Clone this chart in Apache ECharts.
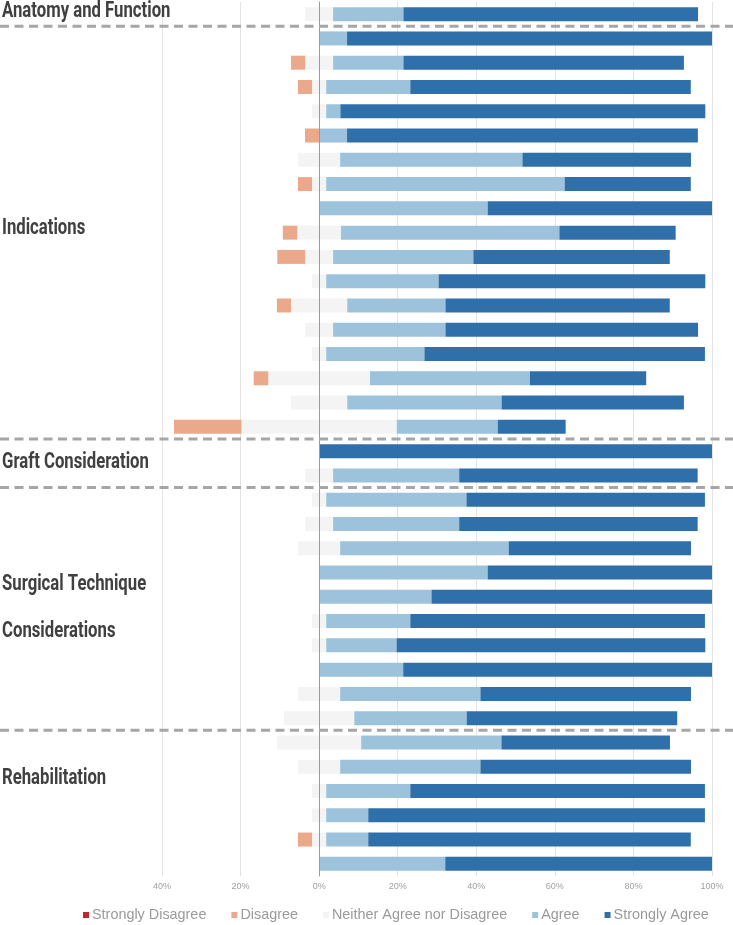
<!DOCTYPE html>
<html>
<head>
<meta charset="utf-8">
<script src="https://cdn.jsdelivr.net/npm/echarts@6/dist/echarts.min.js"></script>
<style>
  html, body { margin: 0; padding: 0; background: #fff; }
  #main { width: 733px; height: 925px; }
</style>
</head>
<body>
<div id="main"></div>
<script>
// 36 statements, top to bottom (labels are hidden on the chart)
var questions = [
  "A1",
  "I1", "I2", "I3", "I4", "I5", "I6", "I7", "I8", "I9", "I10", "I11", "I12", "I13", "I14", "I15", "I16", "I17",
  "G1", "G2",
  "S1", "S2", "S3", "S4", "S5", "S6", "S7", "S8", "S9", "S10",
  "R1", "R2", "R3", "R4", "R5", "R6"
];

// percentages of respondents
var stronglyDisagree = [
  0,
  0, 0, 0, 0, 0, 0, 0, 0, 0, 0, 0, 0, 0, 0, 0, 0, 0,
  0, 0,
  0, 0, 0, 0, 0, 0, 0, 0, 0, 0,
  0, 0, 0, 0, 0, 0
];
var disagree = [
  0,
  0, 3.6, 3.6, 0, 3.6, 0, 3.6, 0, 3.7, 7.1, 0, 3.6, 0, 0, 3.7, 0, 17.2,
  0, 0,
  0, 0, 0, 0, 0, 0, 0, 0, 0, 0,
  0, 0, 0, 0, 3.6, 0
];
var neutral = [
  7.1,
  0, 7.1, 3.6, 3.6, 0, 10.7, 3.6, 0, 11.1, 7.1, 3.6, 14.3, 7.1, 3.6, 25.9, 14.3, 39.5,
  0, 7.1,
  3.6, 7.1, 10.7, 0, 0, 3.6, 3.6, 0, 10.7, 17.9,
  21.4, 10.7, 3.6, 3.6, 3.6, 0
];
var agree = [
  17.9,
  7.1, 17.9, 21.4, 3.6, 7.1, 46.4, 60.7, 42.9, 55.6, 35.7, 28.6, 25.0, 28.6, 25.0, 40.7, 39.3, 25.7,
  0, 32.1,
  35.7, 32.1, 42.9, 42.9, 28.6, 21.4, 17.9, 21.4, 35.7, 28.6,
  35.7, 35.7, 21.4, 10.7, 10.7, 32.1
];
var stronglyAgree = [
  75.0,
  92.9, 71.4, 71.4, 92.9, 89.3, 42.9, 32.1, 57.1, 29.6, 50.0, 67.9, 57.1, 64.3, 71.4, 29.6, 46.4, 17.3,
  100, 60.7,
  60.7, 60.7, 46.4, 57.1, 71.4, 75.0, 78.6, 78.6, 53.6, 53.6,
  42.9, 53.6, 75.0, 85.7, 82.1, 67.9
];

var xTicks = [-40, -20, 0, 20, 40, 60, 80, 100];

// section headings and the row index each section starts at
var groupNames = ["Anatomy and Function", "Indications", "Graft Consideration", "Surgical Technique", "Rehabilitation"];
var groupStarts = [0, 1, 18, 20, 30];

var colors = {
  sd: "#c0272d",
  d: "#e9a98a",
  n: "#f4f4f4",
  a: "#9dc3dc",
  sa: "#2f70aa"
};

var chart = echarts.init(document.getElementById("main"));

function bar(name, data, color) {
  return {
    name: name,
    type: "bar",
    stack: "total",
    barWidth: 14,
    silent: true,
    data: data,
    itemStyle: { color: color }
  };
}

var neg = function (arr) { return arr.map(function (v) { return -v; }); };
var half = function (arr, s) { return arr.map(function (v) { return s * v / 2; }); };

var option = {
  animation: false,
  grid: { left: 162, right: 21, top: 2, bottom: 49 },
  legend: {
    left: 78,
    top: 903,
    itemGap: 25,
    itemWidth: 6,
    itemHeight: 6,
    icon: "rect",
    data: ["Strongly Disagree", "Disagree", "Neither Agree nor Disagree", "Agree", "Strongly Agree"],
    textStyle: { color: "#9a9a9a", fontSize: 14.4, fontFamily: "Liberation Sans", padding: [0, 0, 0, -2] }
  },
  xAxis: {
    type: "value",
    min: xTicks[0],
    max: xTicks[xTicks.length - 1],
    interval: 20,
    axisLine: { show: false },
    axisTick: { show: false },
    axisLabel: {
      color: "#a0a0a0",
      fontSize: 9,
      margin: 6,
      fontFamily: "Liberation Sans",
      formatter: function (v) { return Math.abs(v) + "%"; }
    },
    splitLine: { lineStyle: { color: "#e4e4e4", width: 1 } }
  },
  yAxis: {
    type: "category",
    inverse: true,
    data: questions,
    z: 3,
    axisTick: { show: false },
    axisLabel: { show: false },
    axisLine: { lineStyle: { color: "#9a9a9a", width: 1 } }
  },
  series: [
    bar("Neither Agree nor Disagree", half(neutral, -1), colors.n),
    bar("Neither Agree nor Disagree", half(neutral, 1), colors.n),
    bar("Disagree", neg(disagree), colors.d),
    bar("Agree", agree, colors.a),
    bar("Strongly Disagree", neg(stronglyDisagree), colors.sd),
    bar("Strongly Agree", stronglyAgree, colors.sa)
  ]
};
chart.setOption(option);

/*----------------- section separators and headings -----------------*/
var graphics = [];
for (var i = 1; i < groupStarts.length; i++) {
  var y1 = chart.convertToPixel({ yAxisIndex: 0 }, questions[groupStarts[i] - 1]);
  var y2 = chart.convertToPixel({ yAxisIndex: 0 }, questions[groupStarts[i]]);
  var ym = (y1 + y2) / 2;
  graphics.push({
    type: "line",
    silent: true,
    z: 10,
    shape: { x1: 0, y1: ym, x2: 733, y2: ym },
    style: { stroke: "#a6a6a6", lineWidth: 3, lineDash: [9, 5.5] }
  });
}

// heading text positions (vertical centres)
var headingY = [11, 228, 462, 584, 778];
function heading(text, y) {
  return {
    type: "text",
    x: 2,
    y: y,
    scaleX: 0.76,
    z: 10,
    silent: true,
    style: {
      text: text,
      fill: "#404040",
      font: "bold 22px Roboto",
      textVerticalAlign: "middle"
    }
  };
}
for (var g = 0; g < groupNames.length; g++) {
  graphics.push(heading(groupNames[g], headingY[g]));
}
graphics.push(heading("Considerations", 631));

chart.setOption({ graphic: graphics });
</script>
</body>
</html>
